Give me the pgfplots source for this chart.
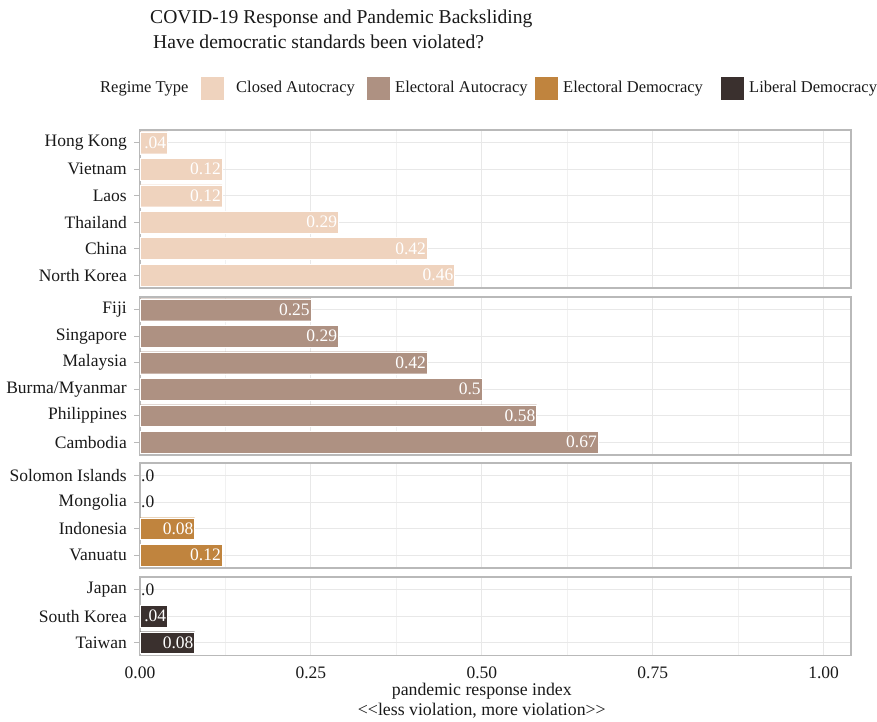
\documentclass[border=0pt]{standalone}
\usepackage{fontspec}
\setmainfont{Liberation Serif}
\usepackage{pgfplots}
\pgfplotsset{compat=1.18}
\definecolor{cA}{RGB}{239,211,190}
\definecolor{eA}{RGB}{174,145,130}
\definecolor{eD}{RGB}{192,132,62}
\definecolor{lD}{RGB}{58,48,46}
\definecolor{gridc}{RGB}{232,232,232}
\definecolor{borderc}{RGB}{185,185,185}
\definecolor{txt}{RGB}{25,25,25}

\pgfplotstableread{
i v lab
1 0.04 .04
2 0.12 0.12
3 0.12 0.12
4 0.29 0.29
5 0.42 0.42
6 0.46 0.46
}\closedA
\pgfplotstableread{
i v lab
1 0.25 0.25
2 0.29 0.29
3 0.42 0.42
4 0.50 0.5
5 0.58 0.58
6 0.67 0.67
}\electA
\pgfplotstableread{
i v lab
3 0.08 0.08
4 0.12 0.12
}\electD
\pgfplotstableread{
i v lab
1 0 .0
2 0 .0
}\electDzero
\pgfplotstableread{
i v lab
2 0.04 .04
3 0.08 0.08
}\libD
\pgfplotstableread{
i v lab
1 0 .0
}\libDzero

\pgfplotsset{
  panel/.style={
    scale only axis, width=711pt,
    xmin=0, xmax=1.04, y dir=reverse,
    axis line style={borderc, line width=1.3pt},
    xtick={0,0.25,0.5,0.75,1},
    minor xtick={0.125,0.375,0.625,0.875},
    xmajorgrids, xminorgrids, ymajorgrids,
    major grid style={gridc, line width=0.9pt},
    minor grid style={gridc!60, line width=0.5pt},
    tick align=outside, xtick pos=bottom, ytick pos=left,
    major tick length=6pt, minor tick length=0pt,
    tick style={borderc, line width=1pt},
    xtick style={draw=none},
    xticklabels={,,,,},
    yticklabel style={font=\fontsize{17.5}{18}\selectfont, text=txt, inner xsep=2pt, xshift=-5pt},
    clip=false,
  },
  bars/.style={xbar, bar width=0.83, bar shift=0pt, draw=white, line width=0.4pt, fill=#1,
    point meta=explicit symbolic, nodes near coords,
    every node near coord/.style={anchor=east, text=white, xshift=1pt,
      font=\fontsize{17.5}{18}\selectfont, inner xsep=2pt}},
  zeros/.style={draw=none, mark=none, point meta=explicit symbolic, nodes near coords,
    every node near coord/.style={anchor=west, text=txt, xshift=-1pt,
      font=\fontsize{17.5}{18}\selectfont, inner xsep=2pt}},
}

\begin{document}
\begin{tikzpicture}
\useasboundingbox (0pt,0pt) rectangle (877pt,721pt);

% titles
\node[anchor=base west, inner sep=0pt, text=txt, font=\fontsize{19.6}{22}\selectfont] at (150pt,697pt) {COVID-19 Response and Pandemic Backsliding};
\node[anchor=base west, inner sep=0pt, text=txt, font=\fontsize{19.6}{22}\selectfont] at (153pt,672pt) {Have democratic standards been violated?};

% legend
\begin{scope}[font=\fontsize{16.5}{18}\selectfont]
\node[anchor=west, inner sep=0pt, text=txt] at (100pt,632.5pt) {Regime Type};
\fill[cA] (201pt,621pt) rectangle (224pt,644pt);
\node[anchor=west, inner sep=0pt, text=txt] at (236pt,632.5pt) {Closed Autocracy};
\fill[eA] (367pt,621pt) rectangle (390pt,644pt);
\node[anchor=west, inner sep=0pt, text=txt] at (395pt,632.5pt) {Electoral Autocracy};
\fill[eD] (535pt,621pt) rectangle (558pt,644pt);
\node[anchor=west, inner sep=0pt, text=txt] at (563pt,632.5pt) {Electoral Democracy};
\fill[lD] (721pt,621pt) rectangle (744pt,644pt);
\node[anchor=west, inner sep=0pt, text=txt] at (749pt,632.5pt) {Liberal Democracy};
\end{scope}

% panel 1: closed autocracy
\begin{axis}[panel, at={(140pt,591pt)}, anchor=north west, height=157.9pt,
  ymin=0.52, ymax=6.48, ytick={1,...,6},
  yticklabels={Hong Kong,Vietnam,Laos,Thailand,China,North Korea}]
\addplot[bars=cA] table[x=v, y=i, meta=lab] {\closedA};
\end{axis}

% panel 2: electoral autocracy
\begin{axis}[panel, at={(140pt,424pt)}, anchor=north west, height=157.9pt,
  ymin=0.52, ymax=6.48, ytick={1,...,6},
  yticklabels={Fiji,Singapore,Malaysia,Burma/Myanmar,Philippines,Cambodia}]
\addplot[bars=eA] table[x=v, y=i, meta=lab] {\electA};
\end{axis}

% panel 3: electoral democracy
\begin{axis}[panel, at={(140pt,258pt)}, anchor=north west, height=104.9pt,
  ymin=0.52, ymax=4.48, ytick={1,...,4},
  yticklabels={Solomon Islands,Mongolia,Indonesia,Vanuatu}]
\addplot[bars=eD] table[x=v, y=i, meta=lab] {\electD};
\addplot[zeros] table[x=v, y=i, meta=lab] {\electDzero};
\end{axis}

% panel 4: liberal democracy
\begin{axis}[panel, at={(140pt,144pt)}, anchor=north west, height=78.4pt,
  ymin=0.52, ymax=3.48, ytick={1,...,3},
  yticklabels={Japan,South Korea,Taiwan},
  xtick style={borderc, line width=1pt},
  xticklabels={0.00,0.25,0.50,0.75,1.00},
  xticklabel style={font=\fontsize{17.5}{18}\selectfont, text=txt, inner ysep=2pt, yshift=-3pt}]
\addplot[bars=lD] table[x=v, y=i, meta=lab] {\libD};
\addplot[zeros] table[x=v, y=i, meta=lab] {\libDzero};
\node[anchor=center, text=txt, font=\fontsize{17.8}{19}\selectfont] at (axis cs:0.5,3.48) [yshift=-36pt] {pandemic response index};
\node[anchor=center, text=txt, font=\fontsize{17.8}{19}\selectfont] at (axis cs:0.5,3.48) [yshift=-55pt] {<\kern0pt<less violation, more violation>\kern0pt>};
\end{axis}
\end{tikzpicture}
\end{document}
